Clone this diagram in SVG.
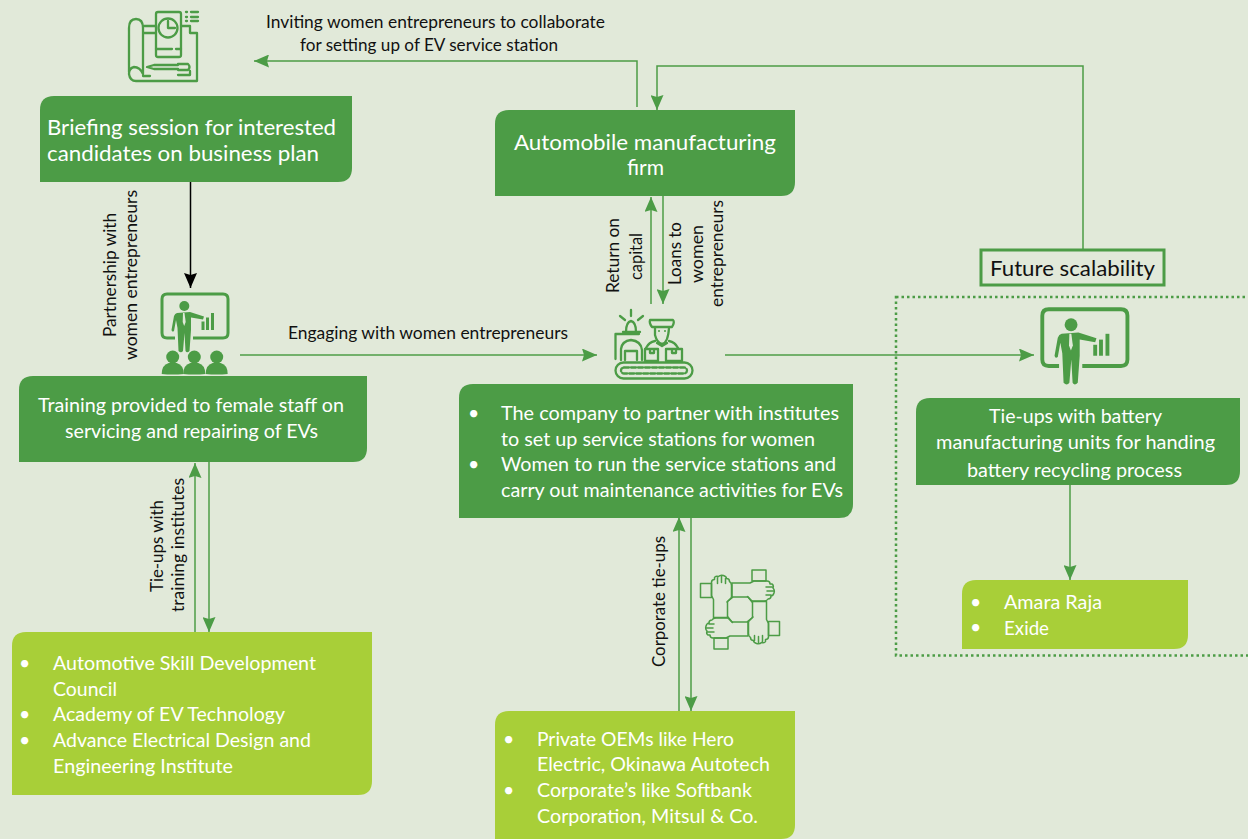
<svg xmlns="http://www.w3.org/2000/svg" width="1248" height="839" viewBox="0 0 1248 839">
<style>
text{font-family:"Lato","Carlito","Open Sans",sans-serif}
.w{fill:#fff;font-size:19.500px}
.w2{fill:#fff;font-size:21.500px}
.k{fill:#111;font-size:16.500px}
.f{fill:#111;font-size:21px}
.dark{fill:#4C9C46}
.light{fill:#A8CF38}
.c{fill:none;stroke:#4C9C46;stroke-width:1.500}
.ic{fill:none;stroke:#4C9C46;stroke-width:2.300;stroke-linejoin:round;stroke-linecap:round}
.th{fill:none;stroke:#4C9C46;stroke-width:1.500;stroke-linejoin:round;stroke-linecap:round}
.s{fill:#4C9C46}
</style>
<defs>
<marker id="ag" markerUnits="userSpaceOnUse" markerWidth="15" markerHeight="13" refX="15" refY="6.500" orient="auto"><path d="M0,0L15,6.500L0,13L2,6.500Z" fill="#4C9C46"/></marker>
<marker id="ak" markerUnits="userSpaceOnUse" markerWidth="15" markerHeight="13" refX="15" refY="6.500" orient="auto"><path d="M0,0L15,6.500L0,13L2,6.500Z" fill="#000"/></marker>
<g id="presenter">
<path d="M175,338H167Q162,338 162,333V299Q162,294 167,294H223Q228,294 228,299V333Q228,338 223,338H193" fill="none" stroke="#4C9C46" stroke-width="3"/>
<circle class="s" cx="184.300" cy="306" r="5"/>
<path class="s" d="M177,313L190,312L204,316.500L203,319.500L191,317.500V330L189.500,351Q187,353.500 185.500,351L184.500,333L183,351Q181,353.500 178.500,351L177.500,328L176,320L174,331Q172,332.500 171.500,330L174,316Q175,313.500 177,313Z"/>
<path d="M183,313L184.500,313L185.700,322L184.200,326L182.700,322Z" fill="#E1E9D9"/>
<rect class="s" x="201.500" y="321.500" width="3" height="8.500"/>
<rect class="s" x="206" y="317.500" width="3" height="12.500"/>
<rect class="s" x="211" y="313" width="3" height="17"/>
</g>
<g id="person">
<circle class="s" cx="0" cy="0" r="6.500"/>
<path class="s" d="M-11,17Q-11,8 -4,6H4Q11,8 11,17Q0,18 -11,17Z"/>
</g>
<g id="hand">
<rect class="th" x="752" y="570" width="14" height="11"/>
<path class="th" d="M732,583H750L754,581H767Q770,581 770,584H772Q774,585 773,588Q775,590 774,593Q773,596 771,596Q771,599 768,599Q767,601 764,601H752M732,583V596M727,602L732,597H748L752,602M766,587H772M767,591H773M766,595H771"/>
</g>
</defs>
<rect width="1248" height="839" fill="#E1E9D9"/>

<g id="connectors">
<path class="c" marker-end="url(#ag)" d="M637,107V61H254"/>
<path class="c" marker-end="url(#ag)" d="M1083,249V66H657V110"/>
<path fill="none" stroke="#000" stroke-width="1.500" marker-end="url(#ak)" d="M190.500,182V288"/>
<path class="c" marker-end="url(#ag)" d="M240,355H597"/>
<path class="c" marker-end="url(#ag)" d="M725,355H1034"/>
<path class="c" marker-end="url(#ag)" d="M651,304V197"/>
<path class="c" marker-end="url(#ag)" d="M663,196V304"/>
<path class="c" marker-end="url(#ag)" d="M195,632V463"/>
<path class="c" marker-end="url(#ag)" d="M209,462V632"/>
<path class="c" marker-end="url(#ag)" d="M679,711V517"/>
<path class="c" marker-end="url(#ag)" d="M691,518V711"/>
<path class="c" marker-end="url(#ag)" d="M1070,485V580"/>
</g>

<g id="labels">
<text class="k" x="266" y="28" textLength="339" lengthAdjust="spacingAndGlyphs">Inviting women entrepreneurs to collaborate</text>
<text class="k" x="300" y="51" textLength="258" lengthAdjust="spacingAndGlyphs">for setting up of EV service station</text>
<text class="k" x="288" y="339" textLength="280" lengthAdjust="spacingAndGlyphs">Engaging with women entrepreneurs</text>
<text class="k" transform="translate(116,337) rotate(-90)" textLength="124" lengthAdjust="spacingAndGlyphs">Partnership with</text>
<text class="k" transform="translate(137,360) rotate(-90)" textLength="170" lengthAdjust="spacingAndGlyphs">women entrepreneurs</text>
<text class="k" transform="translate(163,592) rotate(-90)" textLength="92" lengthAdjust="spacingAndGlyphs">Tie-ups with</text>
<text class="k" transform="translate(184,612) rotate(-90)" textLength="134" lengthAdjust="spacingAndGlyphs">training institutes</text>
<text class="k" transform="translate(665,667) rotate(-90)" textLength="131" lengthAdjust="spacingAndGlyphs">Corporate tie-ups</text>
<text class="k" transform="translate(619,293) rotate(-90)" textLength="75" lengthAdjust="spacingAndGlyphs">Return on</text>
<text class="k" transform="translate(642,280) rotate(-90)" textLength="47" lengthAdjust="spacingAndGlyphs">capital</text>
<text class="k" transform="translate(681,285) rotate(-90)" textLength="63" lengthAdjust="spacingAndGlyphs">Loans to</text>
<text class="k" transform="translate(703,283) rotate(-90)" textLength="58" lengthAdjust="spacingAndGlyphs">women</text>
<text class="k" transform="translate(723,307) rotate(-90)" textLength="107" lengthAdjust="spacingAndGlyphs">entrepreneurs</text>
</g>

<g id="icon-plan">
<path class="ic" d="M129,72V28Q129,19 136,19Q143,19 143,28V74Q140,67 134,67Q129,68 129,74Q130,81 136,81H197V33H190M143,26H156M143,33H156M181,26H190V33M143,76H150"/>
<rect class="ic" x="156" y="12" width="25" height="45" rx="2"/>
<path class="ic" d="M156,49H172M176,49H181"/>
<circle class="ic" cx="168" cy="28" r="9.500"/>
<path class="ic" d="M168,21V28H175"/>
<path class="ic" d="M186,12H187M186,17H187M186,21H187M191,12H198M191,17H198M191,21H198"/>
<path class="ic" d="M147,67L154,65H178V64H188Q191,67 188,70H178V69H154ZM178,75H190V71"/>
</g>

<g id="node-briefing">
<path class="dark" d="M54,96H352V168Q352,182 338,182H40V110Q40,96 54,96Z"/>
<text class="w2" x="47" y="135" textLength="289" lengthAdjust="spacingAndGlyphs">Briefing session for interested</text>
<text class="w2" x="47" y="161" textLength="272" lengthAdjust="spacingAndGlyphs">candidates on business plan</text>
</g>

<g id="node-automobile">
<path class="dark" d="M509,110H795V182Q795,196 781,196H495V124Q495,110 509,110Z"/>
<text class="w2" x="514" y="150" textLength="262" lengthAdjust="spacingAndGlyphs">Automobile manufacturing</text>
<text class="w2" x="627" y="175" textLength="37" lengthAdjust="spacingAndGlyphs">firm</text>
</g>

<g id="node-training">
<use href="#presenter"/>
<use href="#person" x="172.700" y="357"/>
<use href="#person" x="194.300" y="357"/>
<use href="#person" x="216.700" y="357"/>
<path class="dark" d="M33,376H367V448Q367,462 353,462H19V390Q19,376 33,376Z"/>
<text class="w" x="38" y="412" textLength="306" lengthAdjust="spacingAndGlyphs">Training provided to female staff on</text>
<text class="w" x="65" y="438" textLength="253" lengthAdjust="spacingAndGlyphs">servicing and repairing of EVs</text>
</g>

<g id="node-company">
<g id="icon-conveyor">
<rect class="ic" x="615.500" y="362.500" width="77" height="16" rx="8"/>
<rect class="ic" x="621" y="367.500" width="66" height="6" rx="3" stroke-dasharray="5 2"/>
<path class="ic" d="M615.500,359V334H639M621,360V349Q622,341 631,340Q641,341 642,350V360M625,360V351H637V360"/>
<path class="ic" d="M626,332Q626,322 631,321Q636,322 636,332M623,332H640M631,310V316M620,316L625,320M643,316L638,320"/>
<path class="ic" d="M650,320H673Q675,322 672,327H652Q649,323 650,320ZM655,328V335Q657,343 662,344Q668,343 669,328M655,341Q649,342 646,348M669,341Q675,342 678,348M657,343L662,346L667,343"/>
<path class="ic" d="M645,349V361H658V349ZM666,349V361H682V349ZM650,349V353H654V349M672,349V353H676V349"/>
<circle class="s" cx="659" cy="331" r="1"/><circle class="s" cx="665" cy="331" r="1"/>
</g>
<path class="dark" d="M473,384H853V504Q853,518 839,518H459V398Q459,384 473,384Z"/>
<text class="w" x="468" y="420">•</text><text class="w" x="468" y="471">•</text>
<text class="w" x="501" y="420" textLength="338" lengthAdjust="spacingAndGlyphs">The company to partner with institutes</text>
<text class="w" x="501" y="446" textLength="314" lengthAdjust="spacingAndGlyphs">to set up service stations for women</text>
<text class="w" x="501" y="471" textLength="335" lengthAdjust="spacingAndGlyphs">Women to run the service stations and</text>
<text class="w" x="501" y="497" textLength="342" lengthAdjust="spacingAndGlyphs">carry out maintenance activities for EVs</text>
</g>

<g id="group-future">
<rect x="896" y="297" width="360" height="358.500" fill="none" stroke="#4C9C46" stroke-width="2.500" stroke-dasharray="2.500 3"/>
<g id="node-scalability">
<rect x="981" y="250" width="183" height="35" fill="none" stroke="#4C9C46" stroke-width="3"/>
<text class="f" x="990" y="276" textLength="165" lengthAdjust="spacingAndGlyphs">Future scalability</text>
</g>
<g id="node-tieups">
<use href="#presenter" transform="translate(1041,308) scale(1.290) translate(-161,-293)"/>
<path class="dark" d="M930,398H1240V471Q1240,485 1226,485H916V412Q916,398 930,398Z"/>
<text class="w" x="989" y="423" textLength="173" lengthAdjust="spacingAndGlyphs">Tie-ups with battery</text>
<text class="w" x="936" y="449" textLength="279" lengthAdjust="spacingAndGlyphs">manufacturing units for handing</text>
<text class="w" x="967" y="477" textLength="215" lengthAdjust="spacingAndGlyphs">battery recycling process</text>
</g>
<g id="node-battery">
<path class="light" d="M976,580H1188V635Q1188,649 1174,649H962V594Q962,580 976,580Z"/>
<text class="w" x="970" y="609">•</text><text class="w" x="970" y="634">•</text>
<text class="w" x="1004" y="609" textLength="98" lengthAdjust="spacingAndGlyphs">Amara Raja</text>
<text class="w" x="1004" y="635" textLength="45" lengthAdjust="spacingAndGlyphs">Exide</text>
</g>
</g>

<g id="node-institutes">
<path class="light" d="M26,632H372V781Q372,795 358,795H12V646Q12,632 26,632Z"/>
<text class="w" x="19" y="670">•</text><text class="w" x="19" y="721">•</text><text class="w" x="19" y="747">•</text>
<text class="w" x="53" y="670" textLength="263" lengthAdjust="spacingAndGlyphs">Automotive Skill Development</text>
<text class="w" x="53" y="696" textLength="64" lengthAdjust="spacingAndGlyphs">Council</text>
<text class="w" x="53" y="721" textLength="232" lengthAdjust="spacingAndGlyphs">Academy of EV Technology</text>
<text class="w" x="53" y="747" textLength="258" lengthAdjust="spacingAndGlyphs">Advance Electrical Design and</text>
<text class="w" x="53" y="773" textLength="180" lengthAdjust="spacingAndGlyphs">Engineering Institute</text>
</g>

<g id="icon-hands">
<use href="#hand"/>
<use href="#hand" transform="rotate(90 740 609.500)"/>
<use href="#hand" transform="rotate(180 740 609.500)"/>
<use href="#hand" transform="rotate(270 740 609.500)"/>
</g>

<g id="node-oems">
<path class="light" d="M509,711H795V825Q795,839 781,839H495V725Q495,711 509,711Z"/>
<text class="w" x="503" y="746">•</text><text class="w" x="503" y="797">•</text>
<text class="w" x="537" y="746" textLength="197" lengthAdjust="spacingAndGlyphs">Private OEMs like Hero</text>
<text class="w" x="537" y="771" textLength="233" lengthAdjust="spacingAndGlyphs">Electric, Okinawa Autotech</text>
<text class="w" x="537" y="797" textLength="215" lengthAdjust="spacingAndGlyphs">Corporate’s like Softbank</text>
<text class="w" x="537" y="823" textLength="221" lengthAdjust="spacingAndGlyphs">Corporation, Mitsul &amp; Co.</text>
</g>
</svg>
